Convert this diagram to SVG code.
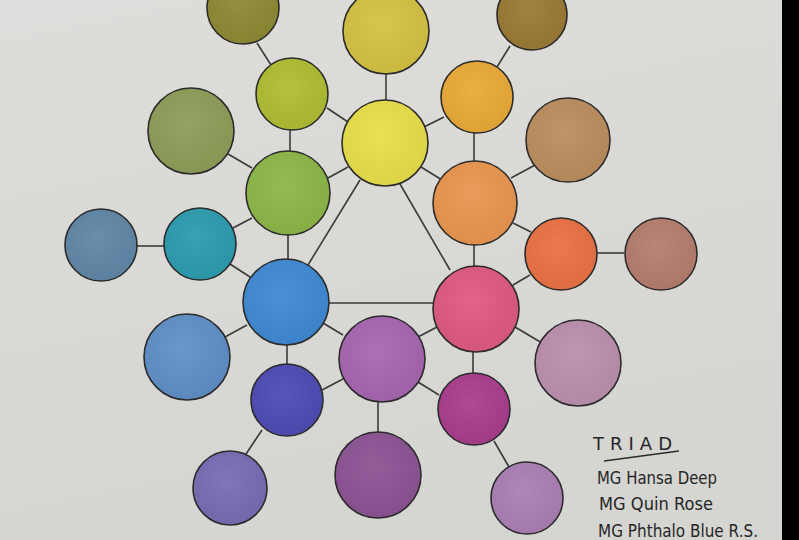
<svg xmlns="http://www.w3.org/2000/svg" width="799" height="540" viewBox="0 0 799 540">
<defs>
<linearGradient id="paper" x1="0" y1="0" x2="0.3" y2="1">
<stop offset="0" stop-color="#dedddb"/>
<stop offset="1" stop-color="#d5d5d1"/>
</linearGradient>
<radialGradient id="wash" cx="0.45" cy="0.4" r="0.6">
<stop offset="0" stop-color="#ffffff" stop-opacity="0.06"/>
<stop offset="1" stop-color="#000000" stop-opacity="0.05"/>
</radialGradient>
</defs>
<style>
.c{stroke:#2b2b2b;stroke-width:1.6}
.w{fill:url(#wash);stroke:none}
.l{stroke:#3a3a3a;stroke-width:1.6;fill:none}
.t{font-family:"DejaVu Sans","Liberation Sans",sans-serif;fill:#262626;font-size:18px}
</style>
<rect width="799" height="540" fill="url(#paper)"/>
<rect x="782" y="0" width="17" height="540" fill="#000"/>
<g id="connectors" class="l">
<line x1="257" y1="43" x2="271" y2="65"/>
<line x1="386" y1="74" x2="386" y2="100"/>
<line x1="510" y1="46" x2="497" y2="67"/>
<line x1="327" y1="108" x2="348" y2="122"/>
<line x1="290" y1="130" x2="290" y2="151"/>
<line x1="424" y1="127" x2="444" y2="117"/>
<line x1="474" y1="133" x2="474" y2="161"/>
<line x1="421" y1="167" x2="442" y2="180"/>
<line x1="228" y1="154" x2="252" y2="168"/>
<line x1="328" y1="178" x2="348" y2="167"/>
<line x1="511" y1="178" x2="537" y2="164"/>
<line x1="400" y1="184" x2="450" y2="270"/>
<line x1="360" y1="180" x2="308" y2="265"/>
<line x1="328" y1="303" x2="433" y2="303"/>
<line x1="233" y1="228" x2="252" y2="218"/>
<line x1="137" y1="246" x2="164" y2="246"/>
<line x1="288" y1="234" x2="288" y2="260"/>
<line x1="230" y1="264" x2="250" y2="277"/>
<line x1="513" y1="223" x2="531" y2="232"/>
<line x1="474" y1="244" x2="474" y2="267"/>
<line x1="597" y1="253" x2="624" y2="253"/>
<line x1="513" y1="285" x2="530" y2="275"/>
<line x1="225" y1="337" x2="247" y2="325"/>
<line x1="323" y1="323" x2="343" y2="335"/>
<line x1="287" y1="345" x2="287" y2="364"/>
<line x1="418" y1="337" x2="437" y2="327"/>
<line x1="515" y1="327" x2="542" y2="343"/>
<line x1="473" y1="352" x2="473" y2="373"/>
<line x1="322" y1="390" x2="343" y2="379"/>
<line x1="418" y1="382" x2="439" y2="395"/>
<line x1="378" y1="402" x2="378" y2="433"/>
<line x1="262" y1="430" x2="246" y2="454"/>
<line x1="494" y1="441" x2="509" y2="467"/>
</g>
<g id="n1"><circle class="c" cx="243" cy="8" r="36" fill="#8e8a34"/><circle class="w" cx="243" cy="8" r="35"/></g>
<g id="n2"><circle class="c" cx="386" cy="31" r="43" fill="#d6c244"/><circle class="w" cx="386" cy="31" r="42"/></g>
<g id="n3"><circle class="c" cx="532" cy="15" r="35" fill="#9c7a34"/><circle class="w" cx="532" cy="15" r="34"/></g>
<g id="n4"><circle class="c" cx="292" cy="94" r="36" fill="#b0be34"/><circle class="w" cx="292" cy="94" r="35"/></g>
<g id="n5"><circle class="c" cx="385" cy="143" r="43" fill="#e8e04a"/><circle class="w" cx="385" cy="143" r="42"/></g>
<g id="n6"><circle class="c" cx="477" cy="97" r="36" fill="#eaaa38"/><circle class="w" cx="477" cy="97" r="35"/></g>
<g id="n7"><circle class="c" cx="191" cy="131" r="43" fill="#8e9e58"/><circle class="w" cx="191" cy="131" r="42"/></g>
<g id="n8"><circle class="c" cx="288" cy="193" r="42" fill="#8cb848"/><circle class="w" cx="288" cy="193" r="41"/></g>
<g id="n9"><circle class="c" cx="568" cy="140" r="42" fill="#bc8e5e"/><circle class="w" cx="568" cy="140" r="41"/></g>
<g id="n10"><circle class="c" cx="475" cy="203" r="42" fill="#eb9650"/><circle class="w" cx="475" cy="203" r="41"/></g>
<g id="n11"><circle class="c" cx="101" cy="245" r="36" fill="#6088a8"/><circle class="w" cx="101" cy="245" r="35"/></g>
<g id="n12"><circle class="c" cx="200" cy="244" r="36" fill="#2e9cb0"/><circle class="w" cx="200" cy="244" r="35"/></g>
<g id="n13"><circle class="c" cx="561" cy="254" r="36" fill="#ea7244"/><circle class="w" cx="561" cy="254" r="35"/></g>
<g id="n14"><circle class="c" cx="661" cy="254" r="36" fill="#b67e6e"/><circle class="w" cx="661" cy="254" r="35"/></g>
<g id="n15"><circle class="c" cx="286" cy="302" r="43" fill="#3f8ad4"/><circle class="w" cx="286" cy="302" r="42"/></g>
<g id="n16"><circle class="c" cx="476" cy="309" r="43" fill="#e05a82"/><circle class="w" cx="476" cy="309" r="42"/></g>
<g id="n17"><circle class="c" cx="187" cy="357" r="43" fill="#6090c8"/><circle class="w" cx="187" cy="357" r="42"/></g>
<g id="n18"><circle class="c" cx="382" cy="359" r="43" fill="#a866b2"/><circle class="w" cx="382" cy="359" r="42"/></g>
<g id="n19"><circle class="c" cx="578" cy="363" r="43" fill="#bc90ae"/><circle class="w" cx="578" cy="363" r="42"/></g>
<g id="n20"><circle class="c" cx="287" cy="400" r="36" fill="#4e4cb4"/><circle class="w" cx="287" cy="400" r="35"/></g>
<g id="n21"><circle class="c" cx="474" cy="409" r="36" fill="#aa3e8e"/><circle class="w" cx="474" cy="409" r="35"/></g>
<g id="n22"><circle class="c" cx="230" cy="488" r="37" fill="#7a6cb4"/><circle class="w" cx="230" cy="488" r="36"/></g>
<g id="n23"><circle class="c" cx="378" cy="475" r="43" fill="#8c5494"/><circle class="w" cx="378" cy="475" r="42"/></g>
<g id="n24"><circle class="c" cx="527" cy="498" r="36" fill="#ac80b6"/><circle class="w" cx="527" cy="498" r="35"/></g>
<g id="legend">
<text class="t" x="593" y="450" textLength="79" lengthAdjust="spacing">TRIAD</text>
<line x1="604" y1="461" x2="679" y2="451" stroke="#2a2a2a" stroke-width="1.4"/>
<text class="t" x="597" y="484" textLength="120" lengthAdjust="spacingAndGlyphs">MG Hansa Deep</text>
<text class="t" x="599" y="510" textLength="114" lengthAdjust="spacingAndGlyphs">MG Quin Rose</text>
<text class="t" x="598" y="537" textLength="160" lengthAdjust="spacingAndGlyphs">MG Phthalo Blue R.S.</text>
</g>
</svg>
